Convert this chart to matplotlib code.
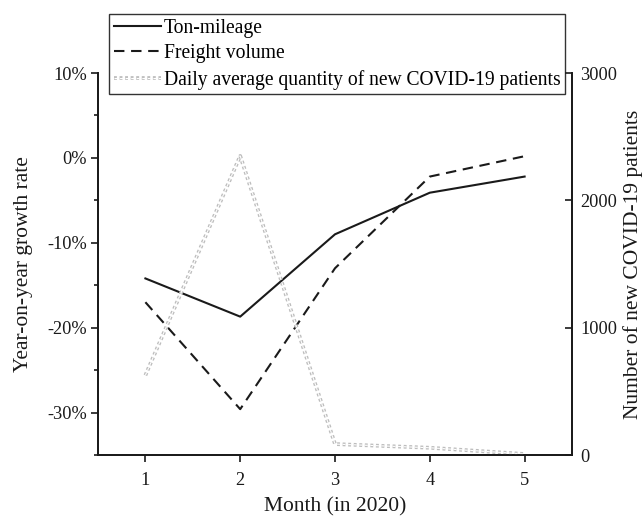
import matplotlib
matplotlib.use("Agg")
import matplotlib.pyplot as plt
import matplotlib.patheffects as pe
from matplotlib.ticker import MultipleLocator, FuncFormatter

plt.rcParams['font.family'] = ['Liberation Serif', 'DejaVu Serif']

months = [1, 2, 3, 4, 5]
ton_mileage = [-14.2, -18.7, -9.0, -4.1, -2.2]
freight_volume = [-17.0, -29.6, -13.0, -2.2, 0.2]
new_patients = [626, 2349, 86, 57, 8]

fig = plt.figure(figsize=(6.43, 5.17), dpi=100)
ax = fig.add_axes([0.1524, 0.1199, 0.7372, 0.7389])
ax2 = ax.twinx()

ink = '#1a1a1a'
l1, = ax.plot(months, ton_mileage, color=ink, lw=1.5, label='Ton-mileage')
l2, = ax.plot(months, freight_volume, color=ink, lw=1.5, dashes=(5, 3.2),
              label='Freight volume')
l3, = ax2.plot(months, new_patients, color='white', lw=0.8, dashes=(2.6, 2.4),
               label='Daily average quantity of new COVID-19 patients',
               path_effects=[pe.Stroke(linewidth=2.7, foreground='#bdbdbd'),
                             pe.Normal()])

ax.set_xlim(0.5, 5.5)
ax.set_ylim(-35, 10)
ax2.set_ylim(0, 3000)

ax.set_xticks(months)
ax.yaxis.set_major_locator(MultipleLocator(10))
ax.yaxis.set_minor_locator(MultipleLocator(5))
ax.yaxis.set_major_formatter(FuncFormatter(lambda v, p: f"{v:.0f}%"))
ax2.yaxis.set_major_locator(MultipleLocator(1000))

for a in (ax, ax2):
    a.spines['top'].set_visible(False)
    for s in ('left', 'right', 'bottom'):
        a.spines[s].set_linewidth(1.3)
        a.spines[s].set_color(ink)
    a.tick_params(length=5, width=1.2, labelsize=13.2, colors=ink)
    a.tick_params(which='minor', length=3, width=1.2, colors=ink)
ax.tick_params(axis='y', which='both', direction='out', pad=3)
ax.tick_params(axis='x', direction='out', pad=7)
ax2.tick_params(axis='y', direction='in', pad=6)

ax.set_xlabel('Month (in 2020)', fontsize=15.5, labelpad=6, color=ink)
ax.set_ylabel('Year-on-year growth rate', fontsize=15.5, labelpad=10,
              color=ink)
ax2.set_ylabel('Number of new COVID-19 patients', fontsize=15.5, labelpad=4,
               color=ink)

leg = ax.legend(handles=[l1, l2, l3], loc='upper left',
                bbox_to_anchor=(0.0232, 1.1545), fontsize=14.15, frameon=True,
                fancybox=False, edgecolor='#333333', framealpha=1,
                handlelength=2.4, handletextpad=0.15, borderpad=0.24,
                labelspacing=0.33, borderaxespad=0)
leg.get_frame().set_linewidth(1.0)
leg.set_zorder(10)

fig.savefig('out.png', dpi=100)
